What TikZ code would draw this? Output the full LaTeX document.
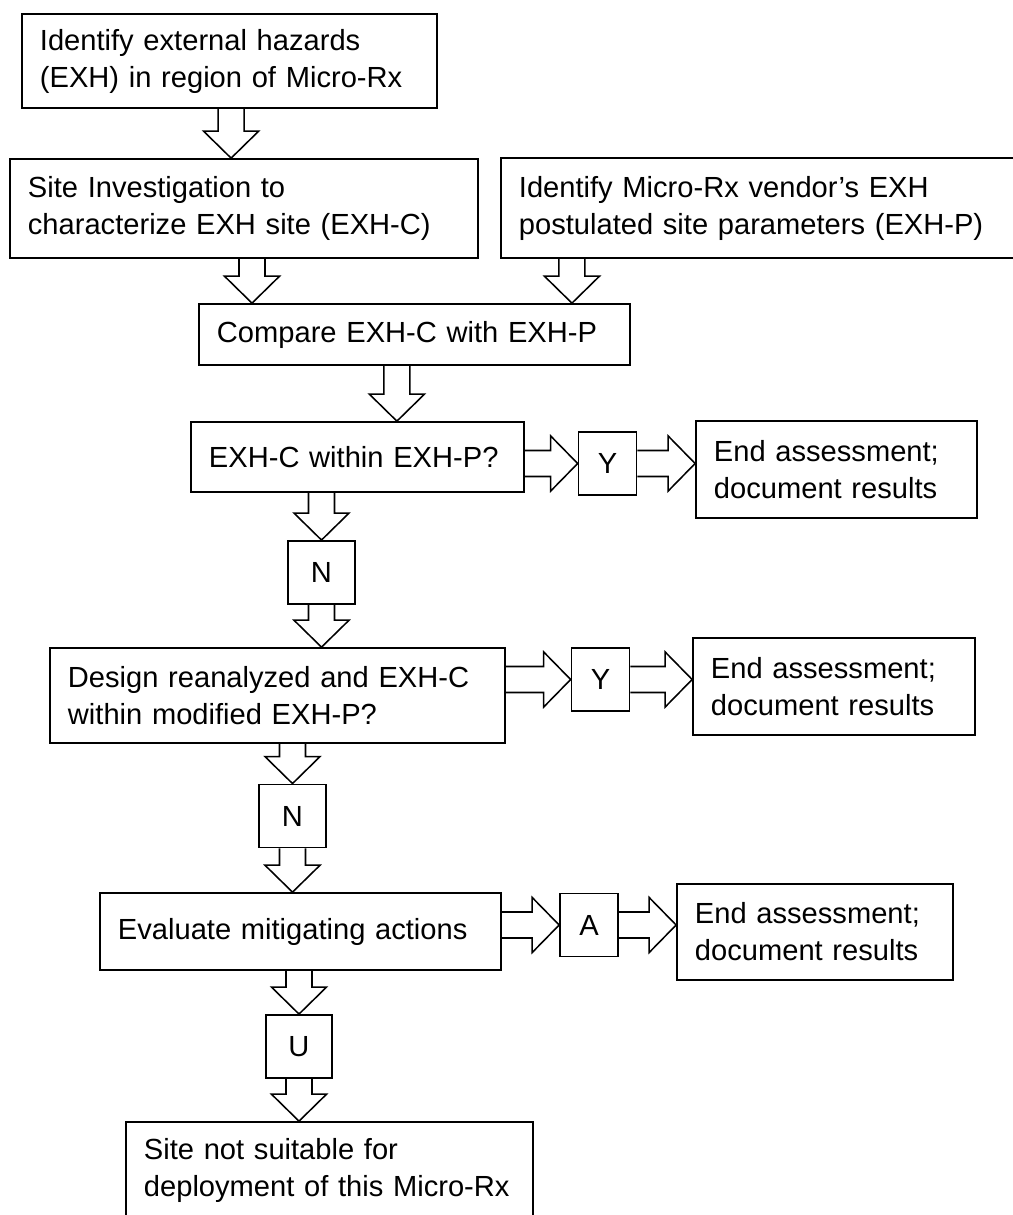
\documentclass[tikz,border=0pt]{standalone}
\usepackage{fontspec}
\setmainfont{Liberation Sans}
\usetikzlibrary{calc, positioning}

\tikzset{
  stepbox/.style={draw, line width=1.2pt, align=left, inner xsep=0.45cm, inner ysep=0pt,
    font=\fontsize{20.7pt}{26.3pt}\selectfont},
  letterbox/.style={draw, line width=1.2pt, minimum width=1.45cm, minimum height=1.58cm,
    inner sep=0pt, font=\fontsize{20.7pt}{26.3pt}\selectfont},
  downarrow/.style={line width=1.1pt, to path={let \p1=(\tikztostart), \p2=(\tikztotarget) in
    (\x1-9.25pt,\y1) -- (\x1-9.25pt,\y2+19.2pt) -- (\x1-19.6pt,\y2+19.2pt) -- (\x1,\y2)
    -- (\x1+19.6pt,\y2+19.2pt) -- (\x1+9.25pt,\y2+19.2pt) -- (\x1+9.25pt,\y1)}},
  rightarrow/.style={line width=1.1pt, to path={let \p1=(\tikztostart), \p2=(\tikztotarget) in
    (\x1,\y1+9.25pt) -- (\x2-19.2pt,\y1+9.25pt) -- (\x2-19.2pt,\y1+19.6pt) -- (\x2,\y1)
    -- (\x2-19.2pt,\y1-19.6pt) -- (\x2-19.2pt,\y1-9.25pt) -- (\x1,\y1-9.25pt)}}
}

\begin{document}
\begin{tikzpicture}[x=0.025cm, y=-0.025cm]
\useasboundingbox (0,0) rectangle (1012,1215);

% first row
\node[stepbox, text width=9.475cm, minimum height=2.35cm] (hazards) at (229.5,61)
  {Identify external hazards\\(EXH) in region of Micro-Rx};

\node[stepbox, text width=10.8cm, minimum height=2.475cm] (siteinv) at (244,208.5)
  {Site Investigation to\\characterize EXH site (EXH-C)};
\node[stepbox, text width=12.35cm, minimum height=2.5cm] (vendor) at (766,208)
  {Identify Micro-Rx vendor’s EXH\\postulated site parameters (EXH-P)};

\node[stepbox, text width=9.875cm, minimum height=1.525cm] (compare) at (414.5,334.5)
  {Compare EXH-C with EXH-P};

% first check
\node[stepbox, text width=7.425cm, minimum height=1.75cm] (within) at (357.5,457)
  {EXH-C within EXH-P?};
\node[letterbox] (yesA) at (607.5,463.5) {Y};
\node[stepbox, text width=6.125cm, minimum height=2.425cm] (endA) at (836.5,469.5)
  {End assessment;\\document results};
\node[letterbox, minimum width=1.675cm] (noA) at (321.5,572.5) {N};

% second check
\node[stepbox, text width=10.475cm, minimum height=2.375cm] (redesign) at (277.5,695.5)
  {Design reanalyzed and EXH-C\\within modified EXH-P?};
\node[letterbox] (yesB) at (600.5,679.5) {Y};
\node[stepbox, text width=6.15cm, minimum height=2.425cm] (endB) at (834,686.5)
  {End assessment;\\document results};
\node[letterbox, minimum width=1.675cm] (noB) at (292.5,816) {N};

% mitigation
\node[stepbox, text width=9.125cm, minimum height=1.925cm] (mitigate) at (300.5,931.5)
  {Evaluate mitigating actions};
\node[letterbox] (accept) at (589,925) {A};
\node[stepbox, text width=6.0cm, minimum height=2.4cm] (endC) at (815,932)
  {End assessment;\\document results};
\node[letterbox, minimum width=1.65cm] (unaccept) at (299,1046.5) {U};

\node[stepbox, text width=9.275cm, minimum height=2.4cm] (notsuitable) at (329.5,1170)
  {Site not suitable for\\deployment of this Micro-Rx};

% block arrows
\draw[downarrow] ([xshift=0.04cm]hazards.south) to (siteinv.north);
\draw[downarrow] ([xshift=0.2cm]siteinv.south) to (compare.north);
\draw[downarrow] ([xshift=-4.85cm]vendor.south) to (compare.north);
\draw[downarrow] ([xshift=-0.44cm]compare.south) to (within.north);

\draw[rightarrow] (within.east |- yesA) to (yesA.west);
\draw[rightarrow] (yesA.east) to (endA.west);
\draw[downarrow] (within.south -| noA) to (noA.north);
\draw[downarrow] (noA.south) to (redesign.north);

\draw[rightarrow] (redesign.east |- yesB) to (yesB.west);
\draw[rightarrow] (yesB.east) to (endB.west);
\draw[downarrow] (redesign.south -| noB) to (noB.north);
\draw[downarrow] (noB.south) to (mitigate.north);

\draw[rightarrow] (mitigate.east |- accept) to (accept.west);
\draw[rightarrow] (accept.east) to (endC.west);
\draw[downarrow] (mitigate.south -| unaccept) to (unaccept.north);
\draw[downarrow] (unaccept.south) to (notsuitable.north);

\end{tikzpicture}
\end{document}
